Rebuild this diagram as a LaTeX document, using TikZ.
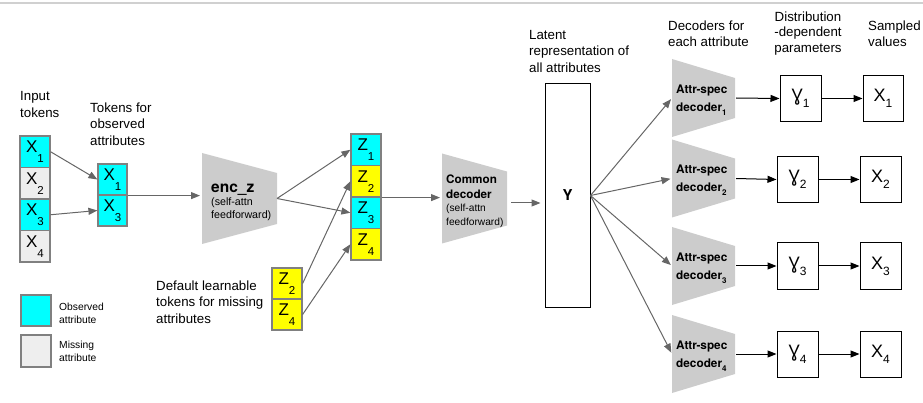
\documentclass[tikz,border=0pt]{standalone}
\usepackage{fontspec}
\setmainfont{Liberation Sans}
\newfontfamily\hvb{texgyreheros-bold.otf}
\usetikzlibrary{arrows.meta}
\definecolor{cyanfill}{HTML}{00FFFF}
\definecolor{yelfill}{HTML}{FFFF00}
\definecolor{missfill}{HTML}{EEEEEE}
\definecolor{tokborder}{HTML}{808080}
\definecolor{trapfill}{HTML}{CCCCCC}
\definecolor{garrowc}{HTML}{666666}
\definecolor{topline}{HTML}{D0D0D0}
\newcommand\tsub[1]{\raisebox{-10pt}{\fontsize{11.5}{11.5}\selectfont #1}}
\newcommand\osub[1]{\raisebox{-6pt}{\fontsize{12}{12}\selectfont #1}}
\newcommand\dsub[1]{\raisebox{-4pt}{\fontsize{8}{8}\selectfont\hvb #1}}
\newcommand\trapz[5]{\fill[trapfill] ({#1},{#3-#4}) -- ({#2},{#3-#5}) -- ({#2},{#3+#5}) -- ({#1},{#3+#4}) -- cycle;}
\tikzset{
  tok/.style={draw=tokborder, line width=1.2pt, minimum width=30pt, minimum height=31.5pt, inner sep=0pt, font=\fontsize{17}{17}\selectfont},
  obsb/.style={tok, fill=cyanfill},
  missb/.style={tok, fill=missfill},
  yelb/.style={tok, fill=yelfill},
  garrow/.style={draw=garrowc, line width=1pt, -{Triangle[length=9pt,width=7pt]}},
  karrow/.style={draw=black, line width=1pt, -{Triangle[length=9pt,width=7pt]}},
  outbox/.style={draw=black, line width=1pt, minimum width=41pt, minimum height=46pt, inner sep=0pt, font=\fontsize{18}{18}\selectfont},
  lbl/.style={align=left, inner sep=0pt, font=\fontsize{13.3}{16.5}\selectfont},
  small/.style={align=left, inner sep=0pt, font=\fontsize{10.3}{12.7}\selectfont},
  declbl/.style={align=left, inner sep=0pt, anchor=west, font=\hvb\fontsize{11.8}{18}\selectfont},
}
\begin{document}
\begin{tikzpicture}[x=1pt, y=-1pt]
\useasboundingbox (0,0) rectangle (923,403);
\draw[topline, line width=1.2pt] (0,3) -- (923,3);

% headers
\node[lbl, anchor=west] (hin) at (20,104.5) {Input\\tokens};
\node[lbl, anchor=west] (hobs) at (90,124) {Tokens for\\observed\\attributes};
\node[lbl, anchor=west] (hdef) at (156,302) {Default learnable\\tokens for missing\\attributes};
\node[lbl, anchor=west] (hlat) at (529,51) {Latent\\representation of\\all attributes};
\node[lbl, anchor=west] (hdec) at (668,33.5) {Decoders for\\each attribute};
\node[lbl, align=center, font=\fontsize{13.3}{15.5}\selectfont] (hdist) at (808,33.5) {Distribution\\-dependent\\parameters};
\node[lbl, anchor=west] (hsam) at (868,33.5) {Sampled\\values};

% input tokens
\node[obsb] (in1) at (35,151.75) {X\tsub{1}};
\node[missb] (in2) at (35,183.25) {X\tsub{2}};
\node[obsb] (in3) at (35,214.75) {X\tsub{3}};
\node[missb] (in4) at (35,246.25) {X\tsub{4}};

% observed tokens
\node[obsb, minimum width=29pt, minimum height=31pt] (ob1) at (112.5,179.5) {X\tsub{1}};
\node[obsb, minimum width=29pt, minimum height=31pt] (ob3) at (112.5,210.5) {X\tsub{3}};

% legend
\node[obsb, minimum height=31pt] (lg1) at (36,310.5) {};
\node[missb, minimum height=32pt] (lg2) at (36,351) {};
\node[small, anchor=west] (lgt1) at (59,313) {Observed\\attribute};
\node[small, anchor=west] (lgt2) at (59,351.5) {Missing\\attribute};

% enc_z
\trapz{202}{277}{198.5}{45.5}{25.5}
\coordinate (encL) at (202,198.5);
\coordinate (encR) at (277,198.5);
\node[inner sep=0pt, anchor=west, align=left, font=\fontsize{10.7}{13}\selectfont] (enct) at (211,202) {{\hvb\fontsize{15.5}{15.5}\selectfont enc\_z}\\(self-attn\\feedforward)};

% z column
\node[obsb] (z1) at (366,149.75) {Z\tsub{1}};
\node[yelb] (z2) at (366,181.25) {Z\tsub{2}};
\node[obsb] (z3) at (366,212.75) {Z\tsub{3}};
\node[yelb] (z4) at (366,244.25) {Z\tsub{4}};

% default tokens
\node[yelb, minimum height=31pt] (dz2) at (287,283.5) {Z\tsub{2}};
\node[yelb, minimum height=31pt] (dz4) at (287,314.5) {Z\tsub{4}};

% common decoder
\trapz{442}{507}{198.5}{45}{27}
\coordinate (cdL) at (442,198.5);
\coordinate (cdR) at (511,203);
\node[inner sep=0pt, anchor=west, align=left, font=\fontsize{10.2}{13.5}\selectfont] (cdt) at (446,201) {{\hvb\fontsize{11.7}{15}\selectfont Common}\\[1.5pt]{\hvb\fontsize{11.7}{15}\selectfont decoder}\\(self-attn\\feedforward)};

% Y
\node[draw=black, line width=1pt, minimum width=45pt, minimum height=223pt, inner sep=0pt, font=\hvb\fontsize{15}{15}\selectfont] (Y) at (567.5,195.5) {Y};

% decoders
\foreach \i/\yc in {1/98,2/178.5,3/266,4/354}{
  \trapz{672}{735}{\yc}{39}{20}
  \coordinate (decL\i) at (672,\yc);
  \coordinate (decR\i) at (736,\yc);
  \node[declbl] (dect\i) at (676,\yc+2) {Attr-spec\\decoder\dsub{\i}};
}

% gamma / X boxes
\node[outbox] (g1) at (800.5,98.5) {Ɣ\osub{1}};
\node[outbox] (g2) at (797.5,179.5) {Ɣ\osub{2}};
\node[outbox] (g3) at (797.5,266) {Ɣ\osub{3}};
\node[outbox] (g4) at (797.5,354) {Ɣ\osub{4}};
\node[outbox, minimum width=40pt] (x1) at (883,98.5) {X\osub{1}};
\node[outbox] (x2) at (880.5,179.5) {X\osub{2}};
\node[outbox] (x3) at (880.5,266) {X\osub{3}};
\node[outbox] (x4) at (880.5,354) {X\osub{4}};

% connectors
\draw[garrow] (in1.east) -- (ob1.west);
\draw[garrow] (in3.east) -- (ob3.west);
\draw[garrow, shorten >=2pt] (ob1.south east) -- (ob1.south east -| encL);
\draw[garrow] (encR) -- (z1.west);
\draw[garrow] (encR) -- (z3.west);
\draw[garrow] (dz2.east) -- (z2.west);
\draw[garrow] (dz4.east) -- (z4.west);
\draw[garrow, shorten >=2pt] (z2.south east) -- (z2.south east -| cdL);
\draw[garrow, shorten >=4pt] (cdR) -- (cdR -| Y.west);
\foreach \i in {1,2,3,4}{
  \draw[garrow, shorten >=1.5pt] (Y.east) -- (decL\i);
  \draw[karrow] (decR\i) -- (g\i.west);
  \draw[karrow] (g\i.east) -- (x\i.west);
}
\end{tikzpicture}
\end{document}
